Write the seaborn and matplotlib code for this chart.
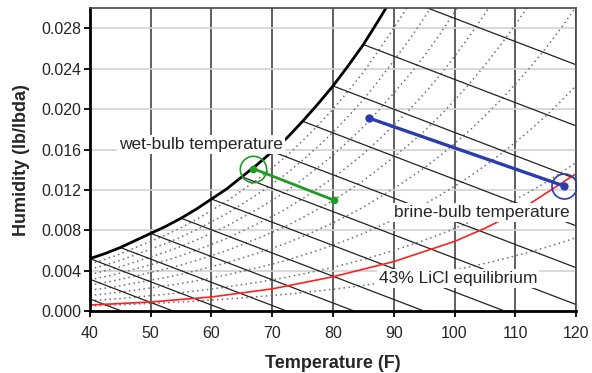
import numpy as np
import pandas as pd
import matplotlib
matplotlib.use("Agg")
import matplotlib.pyplot as plt
import seaborn as sns

# saturation humidity ratio (lb/lbda) every 2.5 F
temp_grid = [30, 32.5, 35, 37.5, 40, 42.5, 45, 47.5, 50, 52.5, 55, 57.5, 60, 62.5, 65, 67.5,
             70, 72.5, 75, 77.5, 80, 82.5, 85, 87.5, 90, 92.5, 95, 97.5, 100, 102.5, 105,
             107.5, 110, 112.5, 115, 117.5, 120]
sat_humidity = [0.0035, 0.0039, 0.0043, 0.0047, 0.0052, 0.0057, 0.0063, 0.0070, 0.0077,
                0.0084, 0.0092, 0.0101, 0.0111, 0.0121, 0.0133, 0.0145, 0.0158, 0.0172,
                0.0188, 0.0205, 0.0223, 0.0243, 0.0264, 0.0288, 0.0313, 0.0339, 0.0367,
                0.0398, 0.0432, 0.0468, 0.0507, 0.0549, 0.0594, 0.0642, 0.0694, 0.0751, 0.0812]

rh_levels = [0.1, 0.2, 0.3, 0.4, 0.5, 0.6, 0.7, 0.8, 0.9]
wetbulb_temps = [30, 35, 40, 45, 50, 55, 60, 65, 70, 75, 80, 85, 90]
wetbulb_slope = -0.00023  # lb/lbda per F

licl_temp = [40, 50, 60, 70, 80, 90, 100, 105, 110, 120]
licl_humidity = [0.0006, 0.0009, 0.0014, 0.0022, 0.0034, 0.0049, 0.0069, 0.0082, 0.0097, 0.0136]

wb_path_temp = [66.9, 80.1]
wb_path_hum = [0.0141, 0.0110]
brine_path_temp = [86.0, 118.0]
brine_path_hum = [0.0191, 0.0124]

x_ticks = [40, 50, 60, 70, 80, 90, 100, 110, 120]
y_ticks = [0.000, 0.004, 0.008, 0.012, 0.016, 0.020, 0.024, 0.028]

sns.set_style("white")
plt.rcParams['font.family'] = ['Liberation Sans', 'DejaVu Sans']

fig = plt.figure(figsize=(5.92, 3.73), dpi=100)
ax = fig.add_axes([0.152, 0.166, 0.821, 0.812])

sat = pd.DataFrame({'T': temp_grid, 'w': sat_humidity})
P = 14.696
pws = sat['w'] * P / (0.622 + sat['w'])

# relative humidity curves (dotted)
vis = sat['T'] >= 40
for rh in rh_levels:
    w_rh = 0.622 * rh * pws / (P - rh * pws)
    sns.lineplot(x=sat['T'][vis], y=w_rh[vis], ax=ax, color='#707070', lw=1.1,
                 linestyle=(0, (1, 2.2)), sort=False, estimator=None)

# wet-bulb lines
for twb in wetbulb_temps:
    w0 = sat.loc[sat['T'] == twb, 'w'].iloc[0]
    t_end = twb - w0 / wetbulb_slope
    sns.lineplot(x=[twb, t_end], y=[w0, 0.0], ax=ax, color='#222222', lw=0.9,
                 sort=False, estimator=None)

# saturation curve
sns.lineplot(data=sat, x='T', y='w', ax=ax, color='black', lw=2.0, sort=False, estimator=None)

# LiCl equilibrium
sns.lineplot(x=licl_temp, y=licl_humidity, ax=ax, color='#ff2020', lw=1.2, sort=False, estimator=None)

# process lines
green = '#1f9a22'
blue = '#2b3cae'
sns.lineplot(x=wb_path_temp, y=wb_path_hum, ax=ax, color=green, lw=2.0, sort=False,
             estimator=None, zorder=5)
ax.plot(wb_path_temp, wb_path_hum, 'o', color=green, ms=4.5, zorder=6)
ax.plot(wb_path_temp[:1], wb_path_hum[:1], 'o', mfc='none', mec=green, mew=1.2, ms=19, zorder=6)

sns.lineplot(x=brine_path_temp, y=brine_path_hum, ax=ax, color=blue, lw=2.4, sort=False,
             estimator=None, zorder=5)
ax.plot(brine_path_temp, brine_path_hum, 'o', color=blue, ms=5, zorder=6)
ax.plot(brine_path_temp[-1:], brine_path_hum[-1:], 'o', mfc='none', mec=blue, mew=1.2, ms=18, zorder=6)

box = dict(facecolor='white', edgecolor='none', pad=1.5)
ax.text(58.2, 0.0165, 'wet-bulb temperature', ha='center', va='center', fontsize=12.5, bbox=box, zorder=4)
ax.text(104.5, 0.0098, 'brine-bulb temperature', ha='center', va='center', fontsize=12.5, bbox=box, zorder=4)
ax.text(100.6, 0.0032, '43% LiCl equilibrium', ha='center', va='center', fontsize=12.5, bbox=box, zorder=4)

ax.set_xlim(40, 120)
ax.set_ylim(0, 0.030)
ax.set_xticks(x_ticks)
ax.set_yticks(y_ticks)
ax.set_yticklabels([f'{v:.3f}' for v in y_ticks])
ax.tick_params(axis='both', labelsize=11.5, length=4, width=1.3, direction='out', color='black')
ax.tick_params(axis='y', pad=2)
ax.tick_params(axis='x', pad=7)
ax.tick_params(left=True, bottom=True)

ax.set_axisbelow(True)
ax.xaxis.grid(True, color='#444444', lw=1.2)
ax.yaxis.grid(True, color='#d2d2d2', lw=1.2)

for side in ['left', 'bottom']:
    ax.spines[side].set_color('black')
    ax.spines[side].set_linewidth(2.0)
for side in ['top', 'right']:
    ax.spines[side].set_color('#444444')
    ax.spines[side].set_linewidth(1.2)

ax.set_xlabel('Temperature (F)', fontsize=13, fontweight='bold', labelpad=10)
ax.set_ylabel('Humidity (lb/lbda)', fontsize=13, fontweight='bold', labelpad=8)

fig.savefig('out.png', dpi=100)
